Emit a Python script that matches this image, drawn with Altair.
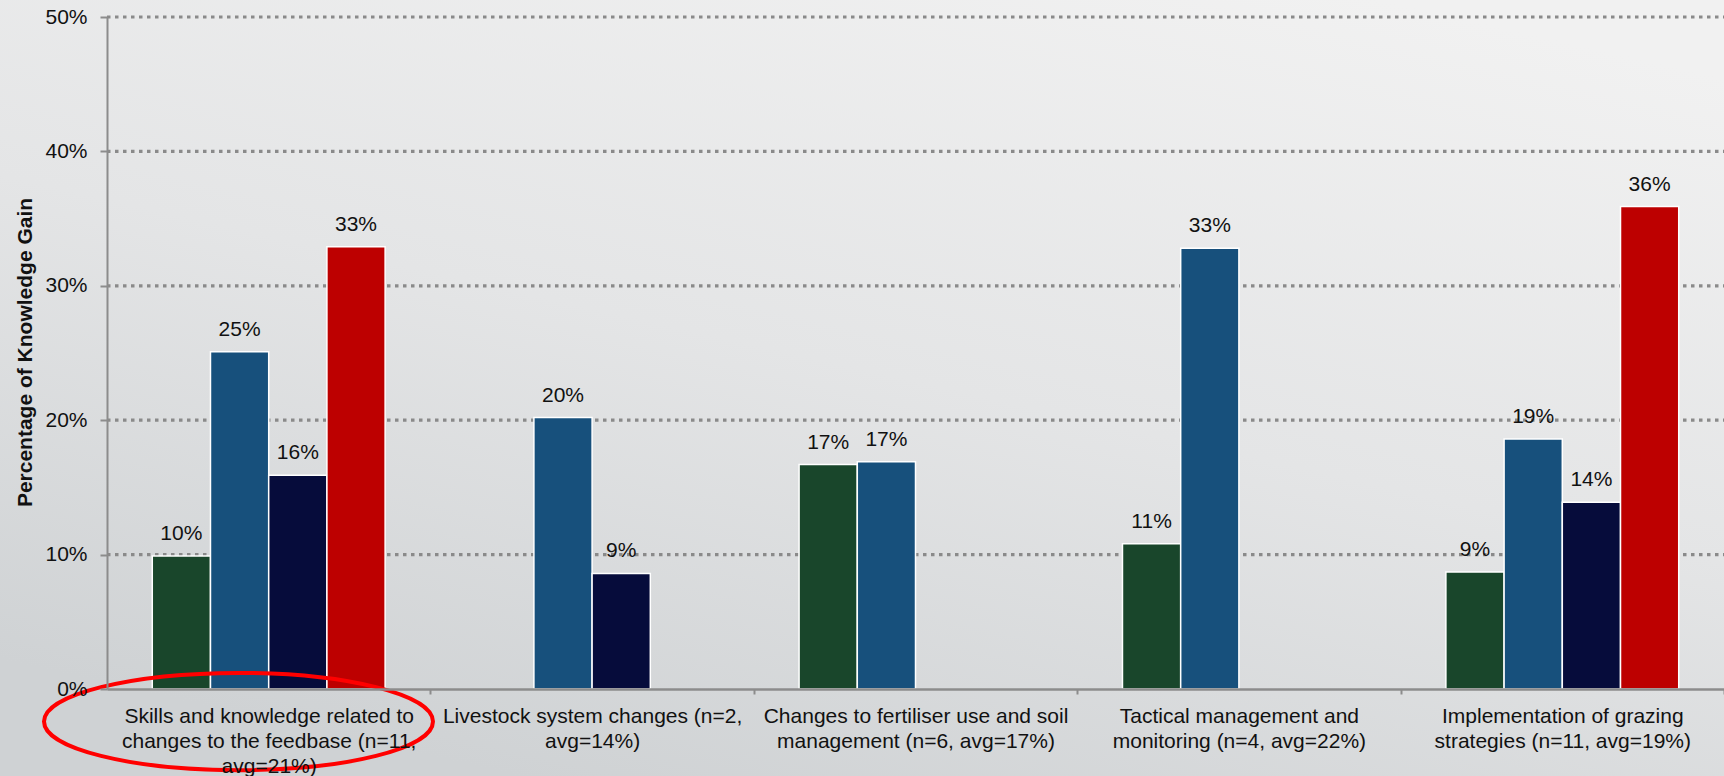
import altair as alt
import pandas as pd

# ---------------- data ----------------
categories = [
    "Skills and knowledge related to\nchanges to the feedbase (n=11,\navg=21%)",
    "Livestock system changes (n=2,\navg=14%)",
    "Changes to fertiliser use and soil\nmanagement (n=6, avg=17%)",
    "Tactical management and\nmonitoring (n=4, avg=22%)",
    "Implementation of grazing\nstrategies (n=11, avg=19%)",
]
series = ["Series 1", "Series 2", "Series 3", "Series 4"]
series_colors = ["#19462b", "#17507c", "#060c3b", "#bd0000"]

values_s1 = [0.099, None, 0.167, 0.108, 0.087]
values_s2 = [0.251, 0.202, 0.169, 0.328, 0.186]
values_s3 = [0.159, 0.086, None, None, 0.139]
values_s4 = [0.329, None, None, None, 0.359]

y_ticks = [0.0, 0.1, 0.2, 0.3, 0.4, 0.5]
grid_values = [0.1, 0.2, 0.3, 0.4, 0.5]

rows = []
for s, vals in zip(series, [values_s1, values_s2, values_s3, values_s4]):
    for c, v in zip(categories, vals):
        if v is not None:
            rows.append({"category": c, "series": s, "value": v})
df = pd.DataFrame(rows)

W, H = 1617, 672
FONT = "Liberation Sans"
STEP = W / len(categories)

y_scale = alt.Scale(domain=[0, 0.5], nice=False, zero=True)
y_axis = alt.Axis(
    values=y_ticks,
    format=".0%",
    title="Percentage of Knowledge Gain",
    titleFont=FONT,
    titleFontSize=21,
    titleFontWeight="bold",
    titleColor="#111111",
    titleAngle=-90,
    titleBaseline="middle",
    titleAlign="center",
    titleX=-82,
    titleY=335,
    labelFont=FONT,
    labelFontSize=21,
    labelColor="#111111",
    labelPadding=13,
    tickSize=7,
    tickColor="#8c8c8c",
    tickWidth=2,
    domainColor="#8c8c8c",
    domainWidth=2,
    grid=False,
    zindex=1,
)
x_enc = alt.X(
    "category:N",
    sort=categories,
    scale=alt.Scale(domain=categories, paddingInner=0.28, paddingOuter=0.14),
    axis=alt.Axis(
        title=None,
        labelExpr="split(datum.label, '\\n')",
        labelAngle=0,
        labelFont=FONT,
        labelFontSize=21,
        labelColor="#111111",
        labelLineHeight=25,
        labelLimit=0,
        labelPadding=11,
        labelBaseline="top",
        labelOffset=-STEP / 2,
        tickOffset=STEP / 2,
        tickSize=5,
        tickColor="#8c8c8c",
        tickWidth=2,
        domainColor="#8c8c8c",
        domainWidth=2.5,
        grid=False,
        zindex=1,
    ),
)
xoff_enc = alt.XOffset(
    "series:N",
    sort=series,
    scale=alt.Scale(domain=series, paddingInner=0, paddingOuter=0),
)

background = (
    alt.Chart(alt.Data(values=[{}]))
    .mark_rect(
        color=alt.LinearGradient(
            gradient="linear",
            stops=[
                alt.GradientStop(color="#f1f1f1", offset=0),
                alt.GradientStop(color="#e4e5e6", offset=0.5),
                alt.GradientStop(color="#cfd2d4", offset=1),
            ],
            x1=0.8, y1=0, x2=0.3, y2=1,
        )
    )
    .encode(
        x=alt.value(-107), x2=alt.value(W),
        y=alt.value(-17), y2=alt.value(H + 87),
    )
)

grid = (
    alt.Chart(pd.DataFrame({"value": grid_values}))
    .mark_rule(color="#8a8a8a", strokeWidth=3.2, strokeDash=[3.5, 4.5])
    .encode(y=alt.Y("value:Q", scale=y_scale, axis=y_axis), x=alt.value(0), x2=alt.value(W))
)

bars = (
    alt.Chart(df)
    .mark_bar(stroke="white", strokeWidth=1.5)
    .encode(
        x=x_enc,
        xOffset=xoff_enc,
        y=alt.Y("value:Q", scale=y_scale, axis=y_axis),
        color=alt.Color("series:N", scale=alt.Scale(domain=series, range=series_colors), legend=None),
    )
)

labels = (
    alt.Chart(df)
    .mark_text(font=FONT, fontSize=21, color="#111111", baseline="alphabetic", dy=-16)
    .encode(
        x=alt.X("category:N", sort=categories),
        xOffset=xoff_enc,
        y=alt.Y("value:Q", scale=y_scale),
        text=alt.Text("value:Q", format=".0%"),
    )
)

ellipse = (
    alt.Chart(alt.Data(values=[{}]))
    .mark_point(
        shape="M -1 0 A 1 0.25 0 1 0 1 0 A 1 0.25 0 1 0 -1 0 Z",
        filled=False,
        stroke="#ff0000",
        strokeWidth=4,
        size=389 ** 2,
        opacity=1,
    )
    .encode(x=alt.value(131.5), y=alt.value(704.5))
)

chart = (
    alt.layer(background, grid, bars, labels, ellipse)
    .properties(
        width=W,
        height=H,
        autosize=alt.AutoSizeParams(type="none"),
        padding={"left": 107, "top": 17, "right": 0, "bottom": 87},
        background="#dcdedf",
    )
    .configure_view(stroke=None)
)

chart.save("out.html", embed_options={"renderer": "svg", "actions": False})
